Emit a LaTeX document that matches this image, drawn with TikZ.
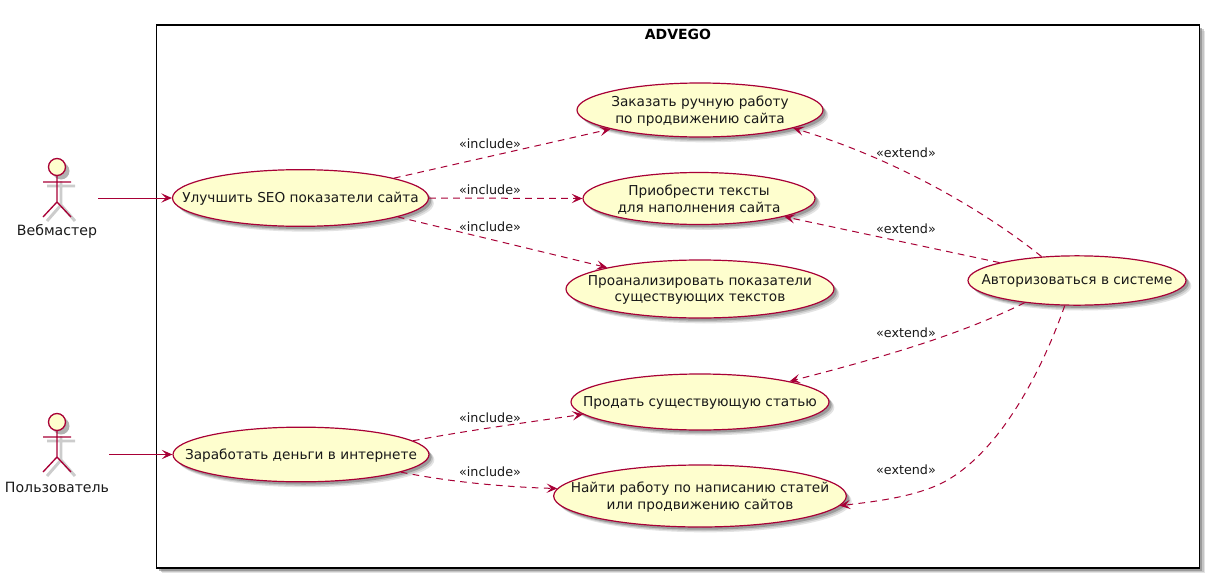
\documentclass[tikz,border=0pt]{standalone}
\usepackage{fontspec}
\setmainfont{DejaVu Sans}
\usetikzlibrary{shapes.geometric,arrows.meta,shadows,calc}
\definecolor{pline}{HTML}{A80036}
\definecolor{pfill}{HTML}{FEFECE}
\tikzset{
  softshadow/.style={general shadow={shadow xshift=4pt,shadow yshift=-4pt,fill=black!18,draw=none,opacity=.6},
                     general shadow={shadow xshift=3pt,shadow yshift=-3pt,fill=black!30,draw=none,opacity=.6},
                     general shadow={shadow xshift=2pt,shadow yshift=-2pt,fill=black!50,draw=none,opacity=.6}},
  usecase/.style={ellipse,draw=pline,fill=pfill,line width=.9pt,inner sep=0pt,softshadow},
  uctext/.style={font=\fontsize{10.25}{12.4}\selectfont,align=center,text=black!90,inner sep=0pt,yshift=-.7pt},
  elabel/.style={font=\fontsize{9.55}{11}\selectfont,text=black!90,inner sep=0pt},
  alabel/.style={font=\fontsize{10.6}{12}\selectfont,text=black!90,inner sep=0pt},
  assoc/.style={draw=pline,line width=.75pt,-{Stealth[length=8pt,width=7pt,inset=3.5pt]}},
  dep/.style={assoc,dash pattern=on 5pt off 4pt},
}
\newcommand{\actorfig}[2]{% x, y of the head centre
  \begin{scope}[shift={(#1,#2)}]
    \draw[black!20,line width=2.2pt] (4,14) -- (4,38) (-10,19) -- (18,19) (4,38) -- (-10,54) (4,38) -- (18,54);
    \fill[black!30] (4,4) circle[radius=8.5];
    \draw[pline,line width=1pt,fill=pfill] (0,0) circle[radius=8.5];
    \draw[pline,line width=1pt] (0,8.5) -- (0,35) (-14,15) -- (14,15) (0,35) -- (-14,50) (0,35) -- (14,50);
  \end{scope}}
\begin{document}
\begin{tikzpicture}[x=0.75pt,y=-0.75pt]
\useasboundingbox (0,0) rectangle (1210,578);
\node[draw=black,line width=1.1pt,fill=white,minimum width=782.25pt,minimum height=407pt,inner sep=0pt,softshadow] (frame) at (678,296.5) {};
\node[font=\fontsize{10.5}{12}\selectfont\bfseries,inner sep=0pt] (title) at (678,34.5) {ADVEGO};

\actorfig{57}{167}
\actorfig{57}{422}
\node[alabel] (vm) at (57,231.5) {Вебмастер};
\node[alabel] (pz) at (57,487.5) {Пользователь};
\coordinate (vmout) at (98,198);
\coordinate (pzout) at (109,454.5);

\node[usecase,minimum width=192pt,minimum height=42.5pt,label={[uctext]center:Улучшить SEO показатели сайта}] (seo) at (300.5,198) {};
\node[usecase,minimum width=192pt,minimum height=41pt,label={[uctext]center:Заработать деньги в интернете}] (earn) at (301,454.5) {};
\node[usecase,minimum width=184.5pt,minimum height=40.5pt,label={[uctext]center:{Заказать ручную работу\\по продвижению сайта}}] (order) at (700,110) {};
\node[usecase,minimum width=174pt,minimum height=39pt,label={[uctext]center:{Приобрести тексты\\для наполнения сайта}}] (buy) at (699,198.5) {};
\node[usecase,minimum width=201pt,minimum height=43.5pt,label={[uctext]center:{Проанализировать показатели\\существующих текстов}}] (analyze) at (700,289) {};
\node[usecase,minimum width=193.5pt,minimum height=42pt,label={[uctext]center:Продать существующую статью}] (sell) at (700,402) {};
\node[usecase,minimum width=219.5pt,minimum height=46.5pt,label={[uctext]center:{Найти работу по написанию статей\\или продвижению сайтов}}] (find) at (700,496) {};
\node[usecase,minimum width=163.5pt,minimum height=37pt,label={[uctext]center:Авторизоваться в системе}] (auth) at (1077,280.5) {};

\draw[assoc] (vmout) -- (seo.west);
\draw[assoc] (pzout) -- (earn.west);
\draw[dep] (seo.12) -- (order.192);
\draw[dep] (seo.east) -- (buy.west);
\draw[dep] (seo.-11) -- (analyze.167);
\draw[dep] (earn.7.6) .. controls (470,430) and (530,422) .. (sell.186.5);
\draw[dep] (earn.-10) .. controls (450,482) and (505,487) .. (find.177.6);
\draw[dep] (auth.146) .. controls (990,215) and (900,160) .. (order.-11);
\draw[dep] (auth.167) -- (buy.-12.5);
\draw[dep] (auth.203.6) .. controls (960,335) and (880,358) .. (sell.13);
\draw[dep] (auth.244) .. controls (1035,390) and (990,460) .. (940,484) .. controls (910,498) and (870,502) .. (find.-4.2);

\node[elabel] (i1) at (490,144) {«include»};
\node[elabel] (i2) at (490,190) {«include»};
\node[elabel] (i3) at (490,227) {«include»};
\node[elabel] (i4) at (490,418) {«include»};
\node[elabel] (i5) at (490,472) {«include»};
\node[elabel] (e1) at (906,153) {«extend»};
\node[elabel] (e2) at (906,229) {«extend»};
\node[elabel] (e3) at (906,333) {«extend»};
\node[elabel] (e4) at (906,470) {«extend»};
\end{tikzpicture}
\end{document}
